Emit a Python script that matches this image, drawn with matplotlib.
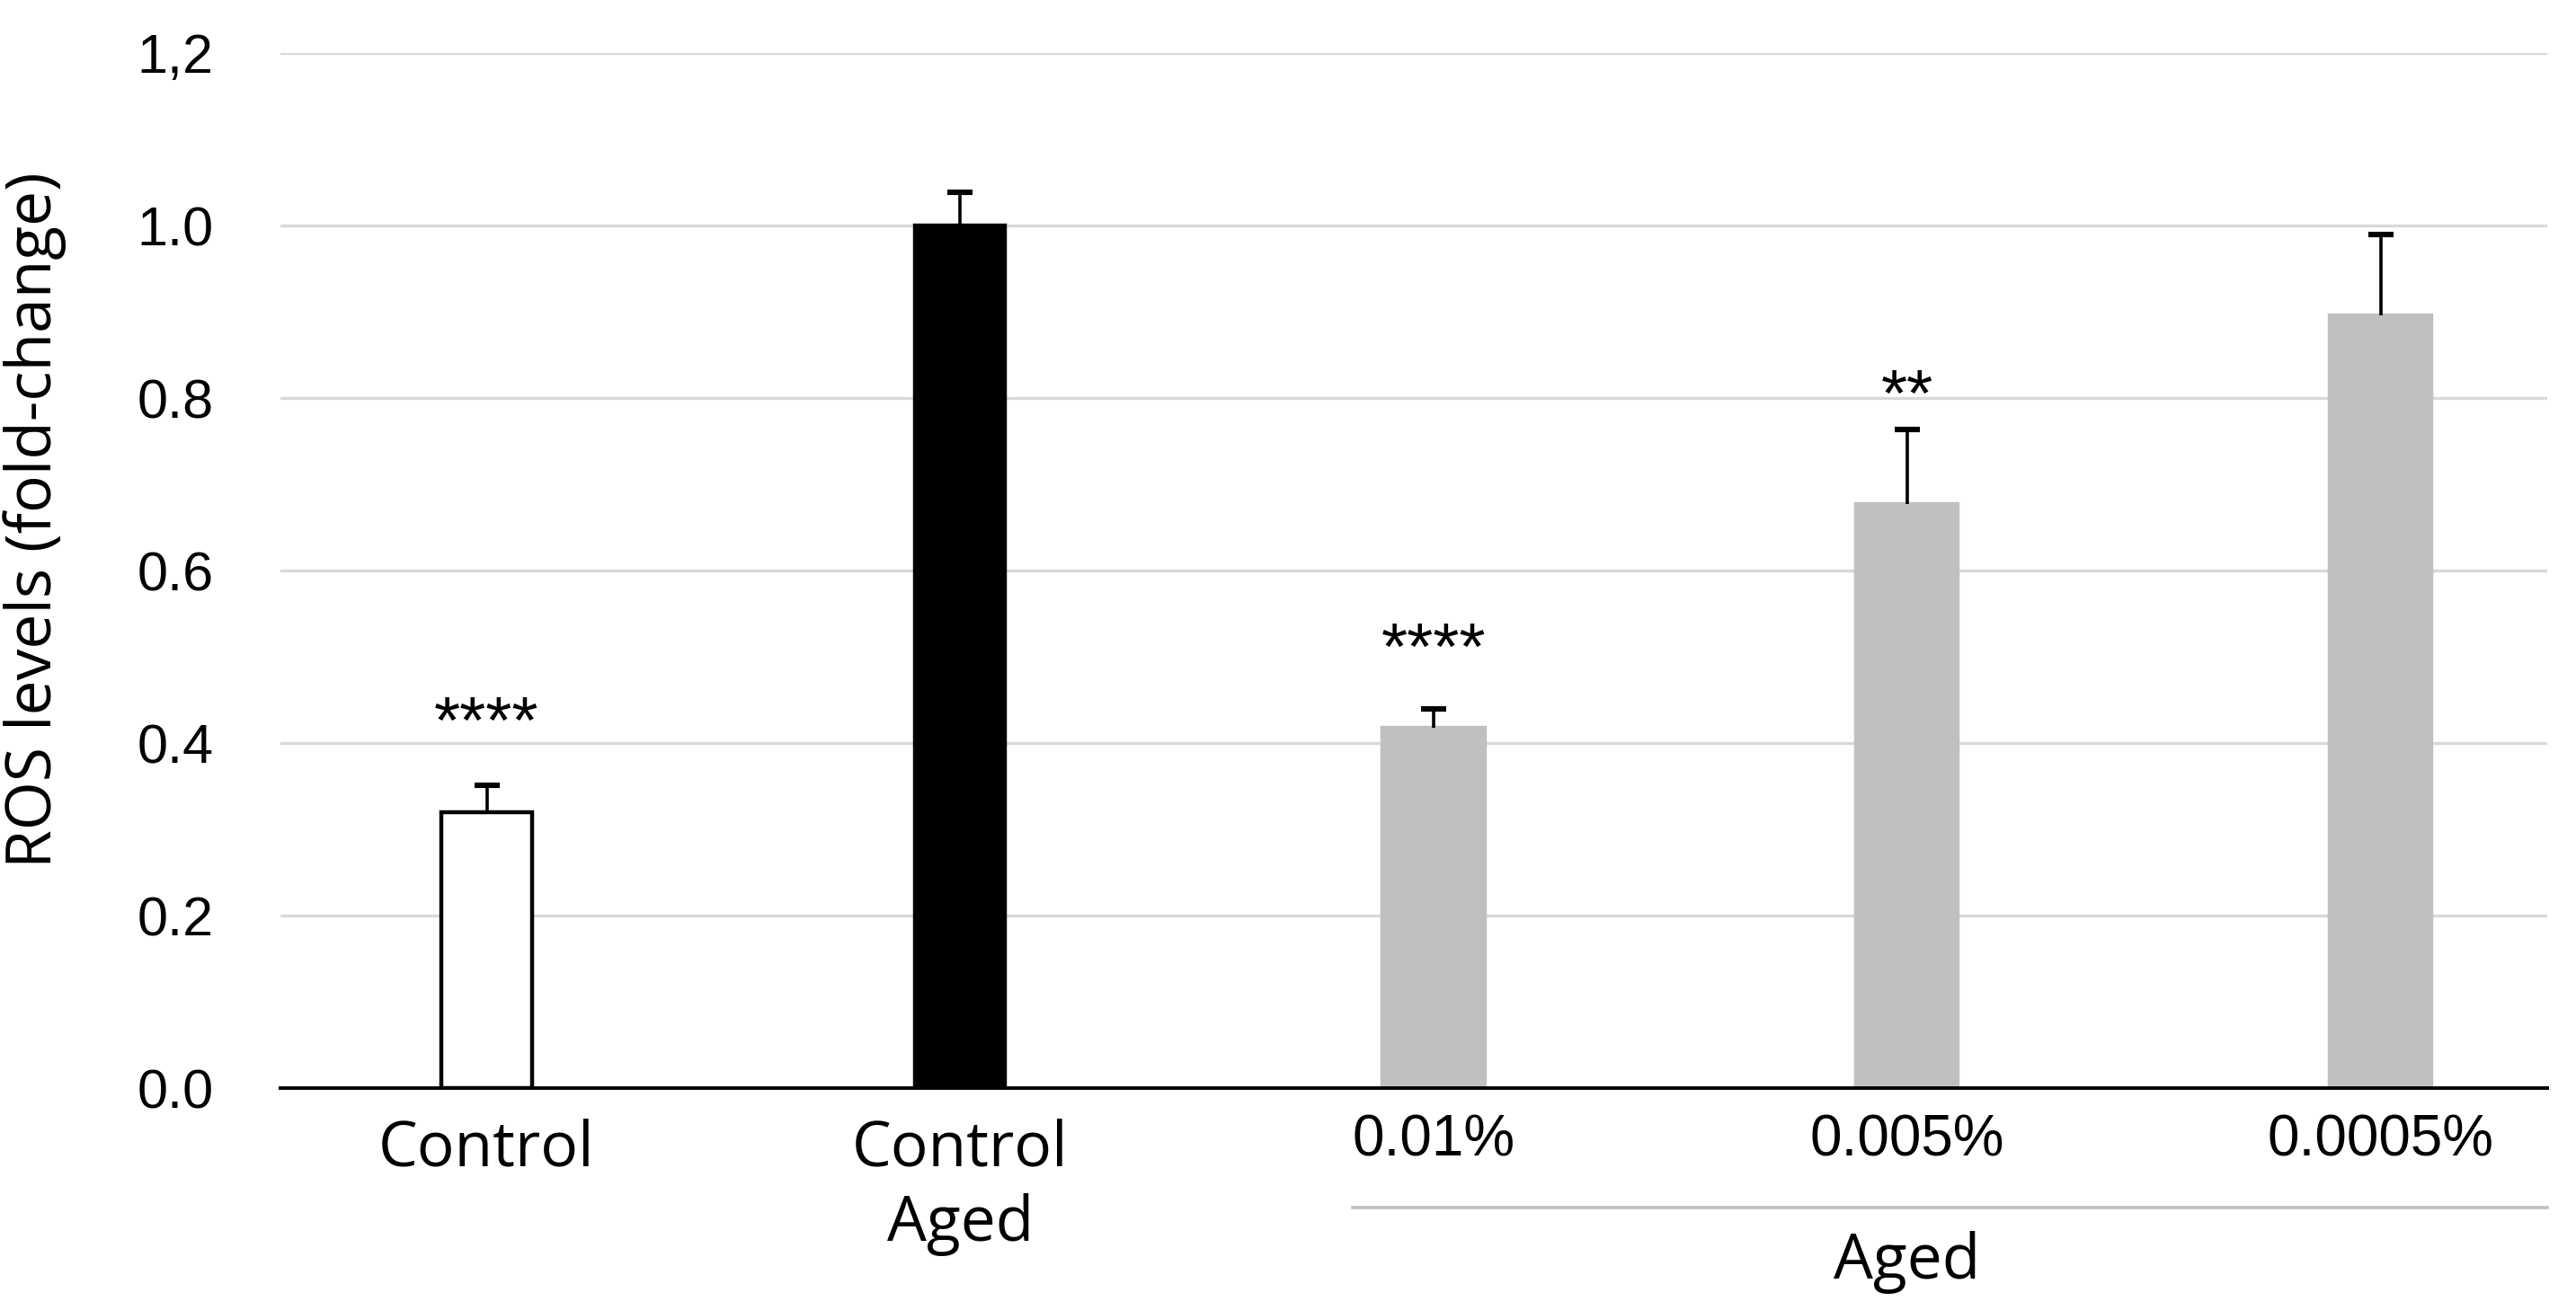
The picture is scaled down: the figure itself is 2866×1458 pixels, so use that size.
import numpy as np
import matplotlib
matplotlib.use('Agg')
import matplotlib.pyplot as plt

# data
groups = ['Control', 'Control\nAged', '0.01%', '0.005%', '0.0005%']
ros = [0.32, 1.00, 0.418, 0.677, 0.896]
err = [0.031, 0.039, 0.022, 0.087, 0.094]
stars = ['****', '', '****', '**', '']
star_y = [0.42, 0, 0.506, 0.80, 0]
colors = ['white', 'black', '#c0c0c0', '#c0c0c0', '#c0c0c0']
edges = ['black', 'black', '#c0c0c0', '#c0c0c0', '#c0c0c0']
widths = [0.19, 0.19, 0.215, 0.215, 0.215]

main_font = ['Open Sans', 'DejaVu Sans']
narrow_font = ['Liberation Sans Narrow', 'Liberation Sans', 'DejaVu Sans']

fig = plt.figure(figsize=(14.33, 7.29), dpi=200)
ax = fig.add_axes([0.109, 0.1694, 0.880, 0.7901])

x = np.arange(len(groups))
ax.bar(x, ros, width=widths, color=colors, edgecolor=edges, linewidth=1.6, zorder=3)
eb = ax.errorbar(x, ros, yerr=[np.zeros(len(err)), err], fmt='none', ecolor='black',
                 elinewidth=1.3, capsize=5, capthick=2.2, zorder=4)
# only the upper cap is drawn
eb[1][0].set_visible(False)

for xi, s, sy in zip(x, stars, star_y):
    if s:
        ax.text(xi, sy, s, ha='center', va='center', fontsize=27, family=narrow_font)

ax.set_ylim(0, 1.2)
ax.set_xlim(-0.435, 4.353)
ax.set_yticks([0, 0.2, 0.4, 0.6, 0.8, 1.0, 1.2])
ax.set_yticklabels(['0.0', '0.2', '0.4', '0.6', '0.8', '1.0', '1,2'])
ax.yaxis.grid(True, color='#d9d9d9', linewidth=1.2, zorder=0)
ax.set_axisbelow(True)

for sp in ['top', 'right', 'left']:
    ax.spines[sp].set_visible(False)
ax.spines['bottom'].set_linewidth(1.4)
ax.spines['bottom'].set_zorder(5)

ax.tick_params(axis='y', length=0, pad=27, labelsize=22)
for lab in ax.get_yticklabels():
    lab.set_family(narrow_font)

ax.set_xticks(x)
ax.set_xticklabels(groups, linespacing=1.25)
ax.tick_params(axis='x', length=0, pad=12)
for i, lab in enumerate(ax.get_xticklabels()):
    if i < 2:
        lab.set_family(main_font)
        lab.set_fontsize(25)
    else:
        lab.set_family(narrow_font)
        lab.set_fontsize(23)
        lab.set_y(0.004)

ax.set_ylabel('ROS levels (fold-change)', fontsize=25, family=main_font)
ax.yaxis.set_label_coords(-0.0947, 0.549)

# group bracket for the aged treatments
ax.plot([1.83, 4.353], [-0.1155, -0.1155], color='#c0c0c0', linewidth=1.3,
        transform=ax.get_xaxis_transform(), clip_on=False)
ax.text(3.0, -0.168, 'Aged', ha='center', va='center', fontsize=25, family=main_font,
        transform=ax.get_xaxis_transform())

fig.savefig('out.png', dpi=200)
